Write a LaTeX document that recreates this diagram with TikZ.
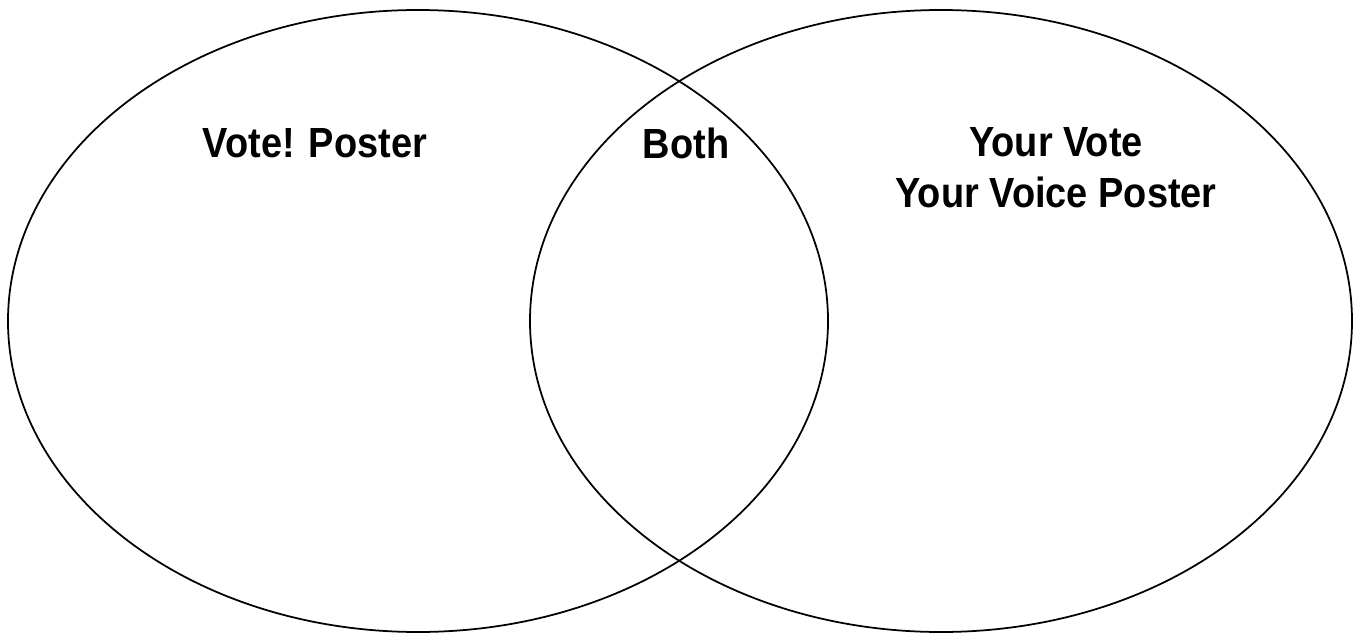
\documentclass[tikz,border=0pt]{standalone}
\usepackage{fontspec}
\setmainfont{Liberation Sans}[FakeStretch=0.9]
\usetikzlibrary{calc}

\begin{document}
\begin{tikzpicture}[x=0.02cm,y=-0.02cm]
  \tikzset{label/.style={font=\bfseries\fontsize{24}{29}\selectfont, align=center}}
  \useasboundingbox (0,0) rectangle (1357,636);

  % Left ellipse
  \draw[line width=1pt] (418,321) ellipse (410 and 311);

  % Right ellipse
  \draw[line width=1pt] (941,321) ellipse (411 and 311);

  % Labels
  \node[label] (vote) at (315,143) {Vote! Poster};
  \node[label] (both) at (686,143) {Both};
  \node[label] (voice) at (1056,168) {Your Vote\\Your Voice Poster};
\end{tikzpicture}
\end{document}
